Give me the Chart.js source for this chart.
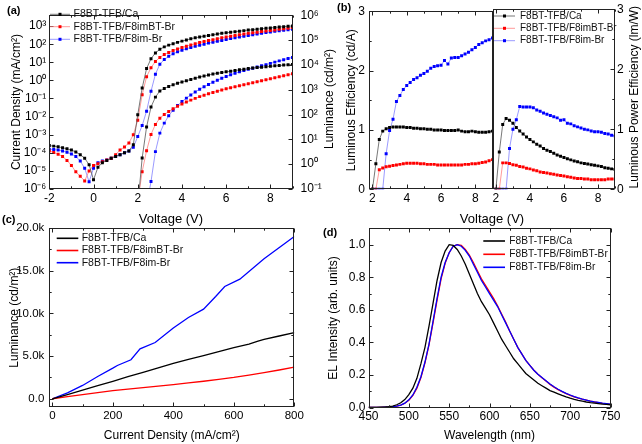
<!DOCTYPE html>
<html>
<head>
<meta charset="utf-8">
<script src="https://cdn.jsdelivr.net/npm/chart.js@4.4.1/dist/chart.umd.min.js"></script>
<style>
  html, body { margin: 0; padding: 0; background: #fff; }
  #wrap { position: relative; width: 642px; height: 444px; overflow: hidden; background: #fff; }
  #wrap canvas { position: absolute; left: 0; top: 0; }
</style>
</head>
<body>
<div id="wrap">
  <canvas id="chartA" width="642" height="444"></canvas>
  <canvas id="chartB1" width="642" height="444"></canvas>
  <canvas id="chartB2" width="642" height="444"></canvas>
  <canvas id="chartC" width="642" height="444"></canvas>
  <canvas id="chartD" width="642" height="444"></canvas>
</div>
<script>
const FONT = "'Liberation Sans', Arial, Helvetica, sans-serif";
Chart.defaults.font.family = FONT;
Chart.defaults.color = '#000';

const names = ['F8BT-TFB/Ca', 'F8BT-TFB/F8imBT-Br', 'F8BT-TFB/F8im-Br'];

// ---------- (a) J-V-L ----------
const vJ = [-2, -1.8, -1.6, -1.4, -1.2, -1, -0.8, -0.6, -0.4, -0.2, 0, 0.2, 0.4, 0.6, 0.8, 1, 1.2, 1.4, 1.6, 1.8,
  2, 2.2, 2.4, 2.6, 2.8, 3, 3.2, 3.4, 3.6, 3.8, 4, 4.2, 4.4, 4.6, 4.8, 5, 5.2, 5.4, 5.6, 5.8,
  6, 6.2, 6.4, 6.6, 6.8, 7, 7.2, 7.4, 7.6, 7.8, 8, 8.2, 8.4, 8.6, 8.8, 9];
const jCa = [2.5e-4, 2.34e-4, 2.14e-4, 1.9e-4, 1.66e-4, 1.41e-4, 1.12e-4, 7.9e-5, 5.0e-5, 2.2e-5, 3.2e-6, 1.6e-5, 2.8e-5, 3.8e-5, 5.0e-5, 6.3e-5, 7.9e-5, 1.0e-4, 1.26e-4, 2.8e-4,
  1.26e-2, 0.38, 4.5, 15.8, 33, 52, 71, 89, 107, 126, 148, 170, 200, 224, 251, 275, 302, 331, 363, 398,
  427, 457, 490, 525, 562, 603, 631, 676, 708, 759, 794, 832, 891, 933, 977, 1023];
const jImBT = [1.26e-4, 1.05e-4, 8.3e-5, 6.3e-5, 3.8e-5, 2.0e-5, 8.9e-6, 5.0e-6, 2.8e-6, 1.0e-5, 2.0e-5, 2.5e-5, 3.2e-5, 4.0e-5, 5.0e-5, 7.9e-5, 1.41e-4, 2.1e-4, 3.5e-4, 1.0e-3,
  6.3e-3, 0.16, 1.6, 5.0, 11.2, 18.6, 27, 35, 45, 55, 66, 78, 91, 107, 123, 141, 158, 178, 200, 224,
  251, 275, 302, 331, 363, 398, 427, 457, 501, 537, 575, 617, 661, 708, 759, 832];
const jIm = [1.58e-4, 1.51e-4, 1.41e-4, 1.26e-4, 1.07e-4, 8.5e-5, 6.3e-5, 3.5e-5, 1.4e-5, 2.5e-6, 1.4e-5, 2.8e-5, 3.5e-5, 4.0e-5, 5.0e-5, 6.3e-5, 7.9e-5, 1.0e-4, 1.26e-4, 2.0e-4,
  7.9e-4, 3.2e-3, 2.0e-2, 0.25, 2.2, 7.9, 14.1, 21.4, 29.5, 38, 46.8, 56, 66, 76, 87, 100, 115, 129, 145, 162,
  182, 204, 229, 251, 275, 302, 331, 363, 398, 437, 468, 513, 550, 589, 631, 676];
const vL = [2, 2.2, 2.4, 2.6, 2.8, 3, 3.2, 3.4, 3.6, 3.8, 4, 4.2, 4.4, 4.6, 4.8, 5, 5.2, 5.4, 5.6, 5.8,
  6, 6.2, 6.4, 6.6, 6.8, 7, 7.2, 7.4, 7.6, 7.8, 8, 8.2, 8.4, 8.6, 8.8, 9];
const lCa = [0.02, 1.78, 31.6, 200, 501, 891, 1122, 1349, 1585, 1820, 2042, 2291, 2570, 2884, 3236, 3548, 3890, 4266, 4571, 4898,
  5248, 5495, 5888, 6310, 6607, 7079, 7413, 7762, 7943, 8318, 8710, 9120, 9333, 9772, 10000, 10470];
const lImBT = [0.03, 0.5, 3.5, 15.8, 40, 71, 100, 132, 170, 214, 263, 316, 380, 447, 525, 603, 692, 776, 871, 977,
  1096, 1202, 1318, 1445, 1585, 1738, 1905, 2089, 2291, 2512, 2754, 3020, 3311, 3631, 3981, 4365];
const vLIm = [2.4, 2.6, 2.8, 3, 3.2, 3.4, 3.6, 3.8, 4, 4.2, 4.4, 4.6, 4.8, 5, 5.2, 5.4, 5.6, 5.8,
  6, 6.2, 6.4, 6.6, 6.8, 7, 7.2, 7.4, 7.6, 7.8, 8, 8.2, 8.4, 8.6, 8.8, 9];
const lIm = [0.02, 0.2, 3.2, 17.8, 45, 89, 148, 229, 331, 457, 617, 813, 1047, 1318, 1622, 1995, 2399, 2884,
  3388, 3981, 4571, 5248, 5888, 6607, 7244, 8128, 9120, 10230, 11480, 12880, 14450, 16220, 18200, 19950];
const aXTicks = [-2, 0, 2, 4, 6, 8];
const aXMinor = [-1, 1, 3, 5, 7, 9];
const jTicks = [1e-6, 1e-5, 1e-4, 1e-3, 1e-2, 1e-1, 1, 10, 100, 1000];
const lTicks = [0.1, 1, 10, 100, 1000, 1e4, 1e5, 1e6];

// ---------- (b) efficiencies ----------
const vB = [2, 2.2, 2.4, 2.6, 2.8, 3, 3.2, 3.4, 3.6, 3.8, 4, 4.2, 4.4, 4.6, 4.8, 5, 5.2, 5.4, 5.6, 5.8,
  6, 6.2, 6.4, 6.6, 6.8, 7, 7.2, 7.4, 7.6, 7.8, 8, 8.2, 8.4, 8.6, 8.8, 9];
const leCa = [0, 0.43, 0.84, 0.98, 1.02, 1.04, 1.05, 1.05, 1.05, 1.05, 1.04, 1.04, 1.03, 1.03, 1.02, 1.02, 1.01, 1.01, 1.0, 1.0,
  1.0, 0.99, 0.99, 0.99, 0.99, 1.0, 0.98, 0.97, 0.97, 0.98, 0.97, 0.96, 0.96, 0.96, 0.97, 0.98];
const leImBT = [0, 0, 0.33, 0.36, 0.38, 0.39, 0.4, 0.41, 0.42, 0.43, 0.44, 0.44, 0.44, 0.44, 0.43, 0.43, 0.42, 0.42, 0.42, 0.41,
  0.41, 0.41, 0.41, 0.41, 0.41, 0.41, 0.41, 0.42, 0.42, 0.43, 0.43, 0.44, 0.45, 0.46, 0.48, 0.5];
const leIm = [0, 0, 0, 0, 0.6, 0.99, 1.18, 1.48, 1.58, 1.68, 1.75, 1.8, 1.85, 1.88, 1.92, 1.95, 1.99, 2.04, 2.07, 2.08,
  2.09, 2.17, 2.11, 2.21, 2.22, 2.22, 2.25, 2.28, 2.31, 2.35, 2.39, 2.44, 2.47, 2.5, 2.52, 2.55];
const peCa = [0, 0.62, 1.08, 1.18, 1.15, 1.1, 1.03, 0.97, 0.92, 0.87, 0.83, 0.79, 0.75, 0.72, 0.68, 0.65, 0.63, 0.6, 0.57, 0.55,
  0.53, 0.51, 0.49, 0.47, 0.46, 0.44, 0.43, 0.42, 0.41, 0.4, 0.39, 0.38, 0.36, 0.35, 0.34, 0.33];
const peImBT = [0, 0, 0.44, 0.44, 0.43, 0.41, 0.4, 0.38, 0.37, 0.35, 0.34, 0.32, 0.31, 0.29, 0.28, 0.27, 0.26, 0.25, 0.24, 0.23,
  0.22, 0.21, 0.2, 0.19, 0.18, 0.18, 0.17, 0.17, 0.16, 0.16, 0.16, 0.16, 0.16, 0.17, 0.17, 0.17];
const peIm = [0, 0, 0, 0, 0.68, 1.0, 1.16, 1.38, 1.37, 1.37, 1.37, 1.36, 1.32, 1.3, 1.27, 1.25, 1.23, 1.21, 1.19, 1.15,
  1.16, 1.1, 1.09, 1.06, 1.04, 1.02, 1.0, 0.99, 0.97, 0.96, 0.96, 0.95, 0.93, 0.92, 0.9, 0.89];
const bXTicks = [2, 4, 6, 8];
const bXMinor = [3, 5, 7, 9];
const bYTicks = [0, 1, 2, 3];
const bYMinor = [0.5, 1.5, 2.5];

// ---------- (c) L-J ----------
const cJCa = [0, 50, 100, 150, 200, 250, 300, 350, 400, 450, 500, 550, 600, 650, 680, 700, 750, 800];
const cLCa = [0, 480, 1000, 1530, 2050, 2580, 3100, 3620, 4150, 4620, 5050, 5520, 6000, 6400, 6750, 6950, 7350, 7750];
const cJImBT = [0, 50, 100, 150, 200, 250, 300, 350, 400, 450, 500, 550, 600, 650, 700, 750, 800];
const cLImBT = [0, 250, 480, 720, 950, 1130, 1300, 1470, 1650, 1850, 2050, 2270, 2500, 2770, 3050, 3370, 3700];
const cJIm = [0, 50, 100, 150, 200, 215, 260, 290, 340, 400, 450, 500, 540, 570, 620, 700, 800];
const cLIm = [0, 700, 1560, 2610, 3590, 3900, 4570, 5850, 6590, 8280, 9520, 10500, 11980, 13150, 14010, 16390, 19000];
const cXTicks = [0, 200, 400, 600, 800];
const cXMinor = [100, 300, 500, 700];
const cYTicks = [0, 5000, 10000, 15000, 20000];
const cYMinor = [2500, 7500, 12500, 17500];

// ---------- (d) EL spectra ----------
const wl = [450, 455, 460, 465, 470, 475, 480, 485, 490, 495, 500, 505, 510, 515, 520, 525, 530, 535, 540, 545,
  550, 555, 560, 565, 570, 575, 580, 585, 590, 595, 600, 605, 610, 615, 620, 625, 630, 635, 640, 645,
  650, 655, 660, 665, 670, 675, 680, 685, 690, 695, 700, 705, 710, 715, 720, 725, 730, 735, 740, 745, 750];
const elCa = [0.002, 0.002, 0.002, 0.003, 0.004, 0.006, 0.01, 0.018, 0.03, 0.05, 0.08, 0.12, 0.18, 0.27, 0.37, 0.5, 0.64, 0.78, 0.89, 0.96,
  1.0, 0.995, 0.97, 0.93, 0.88, 0.82, 0.76, 0.7, 0.65, 0.61, 0.57, 0.52, 0.47, 0.42, 0.38, 0.34, 0.3, 0.27, 0.24, 0.21,
  0.19, 0.17, 0.15, 0.135, 0.12, 0.105, 0.095, 0.085, 0.075, 0.066, 0.058, 0.051, 0.045, 0.04, 0.035, 0.031, 0.028, 0.025, 0.022, 0.02, 0.018];
const elImBT = [0.002, 0.002, 0.002, 0.002, 0.003, 0.004, 0.006, 0.01, 0.016, 0.027, 0.045, 0.075, 0.12, 0.185, 0.275, 0.385, 0.52, 0.66, 0.79, 0.885,
  0.95, 0.99, 1.0, 0.995, 0.97, 0.935, 0.89, 0.84, 0.79, 0.75, 0.71, 0.67, 0.625, 0.575, 0.525, 0.47, 0.42, 0.37, 0.33, 0.29,
  0.26, 0.23, 0.205, 0.183, 0.163, 0.143, 0.126, 0.111, 0.098, 0.086, 0.076, 0.067, 0.059, 0.052, 0.046, 0.04, 0.035, 0.031, 0.027, 0.024, 0.021];
const elIm = [0.002, 0.002, 0.002, 0.002, 0.003, 0.004, 0.006, 0.01, 0.016, 0.028, 0.048, 0.078, 0.125, 0.19, 0.28, 0.39, 0.53, 0.67, 0.8, 0.89,
  0.95, 0.99, 1.0, 0.99, 0.965, 0.93, 0.88, 0.83, 0.78, 0.74, 0.7, 0.66, 0.62, 0.57, 0.52, 0.47, 0.42, 0.37, 0.33, 0.29,
  0.26, 0.23, 0.205, 0.185, 0.165, 0.145, 0.128, 0.113, 0.1, 0.088, 0.078, 0.068, 0.06, 0.053, 0.047, 0.041, 0.036, 0.032, 0.028, 0.025, 0.022];
const dXTicks = [450, 500, 550, 600, 650, 700, 750];
const dXMinor = [475, 525, 575, 625, 675, 725];
const dYTicks = [0, 0.2, 0.4, 0.6, 0.8, 1.0];
const dYMinor = [0.1, 0.3, 0.5, 0.7, 0.9];

// ================= helpers =================
const SUP = { '0': '⁰', '1': '¹', '2': '²', '3': '³', '4': '⁴', '5': '⁵', '6': '⁶', '7': '⁷', '8': '⁸', '9': '⁹', '-': '⁻' };
function powLabel(v) {
  const e = Math.round(Math.log10(v));
  return '10' + String(e).split('').map(c => SUP[c]).join('');
}
function pts(xs, ys) { return xs.map((x, i) => ({ x: x, y: ys[i] })); }
function setTicks(vals) { return s => { s.ticks = vals.map(v => ({ value: v })); }; }

function markerSet(label, xs, ys, color, line, axis) {
  return {
    label: label, data: pts(xs, ys), yAxisID: axis,
    borderColor: line, borderWidth: 0.8, tension: 0, fill: false,
    pointStyle: 'rect', pointRadius: 2.1, pointBorderWidth: 0,
    pointBackgroundColor: color, pointBorderColor: color
  };
}
function lineSet(label, xs, ys, color) {
  return {
    label: label, data: pts(xs, ys), borderColor: color, borderWidth: 1.3,
    tension: 0, fill: false, pointRadius: 0
  };
}
function axis(o) {
  const base = {
    grid: { display: false, drawTicks: false }, border: { display: false },
    ticks: { font: { size: 12 }, padding: 3, autoSkip: false, maxRotation: 0, color: '#000' }
  };
  const out = Object.assign(base, o);
  out.ticks = Object.assign(base.ticks, o.ticks || {});
  return out;
}
function title(text, size) {
  return { display: true, text: text, font: { size: size || 12 }, padding: 0, color: '#000' };
}
function baseOptions(pad, scales) {
  return {
    responsive: false, animation: false, events: [],
    layout: { padding: pad },
    plugins: { legend: { display: false }, tooltip: { enabled: false } },
    scales: scales
  };
}

// frame + inward ticks
function framePlugin(spec) {
  return {
    id: 'frame',
    afterDatasetsDraw(chart) {
      const { ctx, chartArea: a, scales } = chart;
      const L = Math.round(a.left) + 0.5, R = Math.round(a.right) - 0.5;
      const T = Math.round(a.top) + 0.5, B = Math.round(a.bottom) - 0.5;
      ctx.save();
      ctx.strokeStyle = '#222';
      ctx.lineWidth = 1;
      ctx.strokeRect(L, T, R - L, B - T);
      spec.forEach(t => {
        const s = scales[t.axis];
        [[t.major, 4], [t.minor || [], 2.2]].forEach(([vals, len]) => {
          vals.forEach(v => {
            const p = Math.round(s.getPixelForValue(v)) + 0.5;
            ctx.beginPath();
            t.edges.forEach(edge => {
              if (edge === 'bottom') { ctx.moveTo(p, B); ctx.lineTo(p, B - len); }
              if (edge === 'top') { ctx.moveTo(p, T); ctx.lineTo(p, T + len); }
              if (edge === 'left') { ctx.moveTo(L, p); ctx.lineTo(L + len, p); }
              if (edge === 'right') { ctx.moveTo(R, p); ctx.lineTo(R - len, p); }
            });
            ctx.stroke();
          });
        });
      });
      ctx.restore();
    }
  };
}

function legendPlugin(o) {
  return {
    id: 'legendBox',
    afterDraw(chart) {
      const ctx = chart.ctx;
      ctx.save();
      ctx.font = o.size + 'px ' + FONT;
      ctx.textBaseline = 'middle';
      ctx.textAlign = 'left';
      o.items.forEach((it, i) => {
        const y = o.ys[i];
        ctx.strokeStyle = it.line;
        ctx.lineWidth = o.lw;
        ctx.beginPath(); ctx.moveTo(o.x0, y); ctx.lineTo(o.x1, y); ctx.stroke();
        if (o.marker) {
          ctx.fillStyle = it.color;
          ctx.fillRect((o.x0 + o.x1) / 2 - 1.5, y - 1.5, 3, 3);
        }
        ctx.fillStyle = '#111';
        ctx.fillText(it.text, o.tx, y);
      });
      ctx.restore();
    }
  };
}

// free text: panel letters, shared axis title, right-hand titles read bottom-to-top
function notesPlugin(notes) {
  return {
    id: 'notes',
    afterDraw(chart) {
      const ctx = chart.ctx;
      notes.forEach(n => {
        ctx.save();
        ctx.fillStyle = '#000';
        ctx.textBaseline = 'middle';
        ctx.font = (n.bold ? 'bold ' : '') + n.size + 'px ' + FONT;
        ctx.textAlign = n.align || 'left';
        ctx.translate(n.x, n.y);
        if (n.rot) ctx.rotate(n.rot);
        ctx.fillText(n.text, 0, 0);
        ctx.restore();
      });
    }
  };
}

const BLK = '#000000', RED = '#ff0000', BLU = '#0000ff';
const BLK_L = '#555555', RED_L = '#ff8080', BLU_L = '#8080ff';
const markerItems = [
  { text: names[0], color: BLK, line: BLK_L },
  { text: names[1], color: RED, line: RED_L },
  { text: names[2], color: BLU, line: BLU_L }
];
const lineItems = [
  { text: names[0], line: BLK },
  { text: names[1], line: RED },
  { text: names[2], line: BLU }
];

// ================= (a) =================
new Chart(document.getElementById('chartA'), {
  type: 'line',
  data: {
    datasets: [
      markerSet(names[0], vJ, jCa, BLK, BLK_L, 'y'),
      markerSet(names[1], vJ, jImBT, RED, RED_L, 'y'),
      markerSet(names[2], vJ, jIm, BLU, BLU_L, 'y'),
      markerSet(names[0], vL, lCa, BLK, BLK_L, 'yL'),
      markerSet(names[1], vL, lImBT, RED, RED_L, 'yL'),
      markerSet(names[2], vLIm, lIm, BLU, BLU_L, 'yL')
    ]
  },
  options: baseOptions({ left: 9.5, right: 304.8, top: 9.3, bottom: 217.2 }, {
    x: axis({
      type: 'linear', min: -2, max: 9, ticks: { padding: 2 },
      afterBuildTicks: setTicks(aXTicks), afterFit: s => { s.height = 37.8; },
      title: title('Voltage (V)', 13)
    }),
    y: axis({
      type: 'logarithmic', position: 'left', min: 1e-6, max: 4000,
      ticks: { callback: v => powLabel(v), padding: 3 },
      afterBuildTicks: setTicks(jTicks), afterFit: s => { s.width = 39.8; },
      title: title('Current Density (mA/cm²)')
    }),
    yL: axis({
      type: 'logarithmic', position: 'right', min: 0.1, max: 1e6,
      ticks: { callback: v => powLabel(v), padding: 8 },
      afterBuildTicks: setTicks(lTicks), afterFit: s => { s.width = 44.7; }
    })
  }),
  plugins: [
    framePlugin([
      { axis: 'x', major: aXTicks, minor: aXMinor, edges: ['bottom', 'top'] },
      { axis: 'y', major: jTicks, edges: ['left'] },
      { axis: 'yL', major: lTicks, edges: ['right'] }
    ]),
    legendPlugin({ x0: 50, x1: 70, tx: 73.5, ys: [14.3, 26.7, 39.3], size: 10.5, lw: 0.8, marker: true, items: markerItems }),
    notesPlugin([
      { text: '(a)', x: 7, y: 11, size: 11, bold: true },
      { text: 'Luminance (cd/m²)', x: 330, y: 99, size: 12, align: 'center', rot: -Math.PI / 2 }
    ])
  ]
});

// ================= (b) left: luminous efficiency =================
new Chart(document.getElementById('chartB1'), {
  type: 'line',
  data: {
    datasets: [
      markerSet(names[0], vB, leCa, BLK, BLK_L, 'y'),
      markerSet(names[1], vB, leImBT, RED, RED_L, 'y'),
      markerSet(names[2], vB, leIm, BLU, BLU_L, 'y')
    ]
  },
  options: baseOptions({ left: 344.5, right: 149.5, top: 5.1, bottom: 234.7 }, {
    x: axis({
      type: 'linear', min: 1.8, max: 9, ticks: { padding: 2 },
      afterBuildTicks: setTicks(bXTicks), afterFit: s => { s.height = 20; }
    }),
    y: axis({
      type: 'linear', position: 'left', min: 0, max: 3,
      ticks: { padding: 4 },
      afterBuildTicks: setTicks(bYTicks), afterFit: s => { s.width = 24.5; },
      title: title('Luminous Efficiency (cd/A)')
    })
  }),
  plugins: [
    framePlugin([
      { axis: 'x', major: bXTicks, minor: bXMinor, edges: ['bottom', 'top'] },
      { axis: 'y', major: bYTicks, minor: bYMinor, edges: ['left'] }
    ]),
    notesPlugin([
      { text: '(b)', x: 337, y: 8, size: 11, bold: true },
      { text: 'Voltage (V)', x: 492, y: 219, size: 13, align: 'center' }
    ])
  ]
});

// ================= (b) right: power efficiency =================
new Chart(document.getElementById('chartB2'), {
  type: 'line',
  data: {
    datasets: [
      markerSet(names[0], vB, peCa, BLK, BLK_L, 'yR'),
      markerSet(names[1], vB, peImBT, RED, RED_L, 'yR'),
      markerSet(names[2], vB, peIm, BLU, BLU_L, 'yR')
    ]
  },
  options: baseOptions({ left: 492.5, right: 0, top: 5.1, bottom: 234.7 }, {
    x: axis({
      type: 'linear', min: 1.8, max: 9, ticks: { padding: 2 },
      afterBuildTicks: setTicks(bXTicks), afterFit: s => { s.height = 20; }
    }),
    yR: axis({
      type: 'linear', position: 'right', min: 0, max: 3,
      ticks: { padding: 2 },
      afterBuildTicks: setTicks(bYTicks), afterFit: s => { s.width = 27; }
    })
  }),
  plugins: [
    framePlugin([
      { axis: 'x', major: bXTicks, minor: bXMinor, edges: ['bottom', 'top'] },
      { axis: 'yR', major: bYTicks, minor: bYMinor, edges: ['right'] }
    ]),
    legendPlugin({ x0: 494, x1: 515, tx: 520, ys: [16, 28.3, 40.7], size: 10, lw: 0.8, marker: true, items: markerItems }),
    notesPlugin([
      { text: 'Luminous Power Efficiency (lm/W)', x: 635, y: 97.2, size: 12, align: 'center', rot: -Math.PI / 2 }
    ])
  ]
});

// ================= (c) =================
new Chart(document.getElementById('chartC'), {
  type: 'line',
  data: {
    datasets: [
      lineSet(names[0], cJCa, cLCa, BLK),
      lineSet(names[1], cJImBT, cLImBT, RED),
      lineSet(names[2], cJIm, cLIm, BLU)
    ]
  },
  options: baseOptions({ left: 7.8, right: 347.7, top: 228, bottom: 1.1 }, {
    x: axis({
      type: 'linear', min: -10, max: 800, ticks: { padding: 2, font: { size: 11.5 } },
      afterBuildTicks: setTicks(cXTicks), afterFit: s => { s.height = 35.6; },
      title: title('Current Density (mA/cm²)')
    }),
    y: axis({
      type: 'linear', position: 'left', min: -1000, max: 20000,
      ticks: { padding: 5, font: { size: 11.5 }, callback: v => v === 0 ? '0.0' : (v / 1000).toFixed(1) + 'k' },
      afterBuildTicks: setTicks(cYTicks), afterFit: s => { s.width = 41.5; },
      title: title('Luminance (cd/m²)')
    })
  }),
  plugins: [
    framePlugin([
      { axis: 'x', major: cXTicks, minor: cXMinor, edges: ['bottom', 'top'] },
      { axis: 'y', major: cYTicks, minor: cYMinor, edges: ['left', 'right'] }
    ]),
    legendPlugin({ x0: 56.7, x1: 78.3, tx: 81.7, ys: [238.3, 250.5, 262.7], size: 10.5, lw: 1.6, marker: false, items: lineItems }),
    notesPlugin([{ text: '(c)', x: 2, y: 220, size: 11, bold: true }])
  ]
});

// ================= (d) =================
new Chart(document.getElementById('chartD'), {
  type: 'line',
  data: {
    datasets: [
      lineSet(names[0], wl, elCa, BLK),
      lineSet(names[2], wl, elIm, BLU),
      lineSet(names[1], wl, elImBT, RED)
    ]
  },
  options: baseOptions({ left: 326.1, right: 31.5, top: 228.3, bottom: 1.1 }, {
    x: axis({
      type: 'linear', min: 450, max: 750, ticks: { padding: 2 },
      afterBuildTicks: setTicks(dXTicks), afterFit: s => { s.height = 35.2; },
      title: title('Wavelength (nm)')
    }),
    y: axis({
      type: 'linear', position: 'left', min: 0, max: 1.1,
      ticks: { padding: 3, callback: v => v.toFixed(1) },
      afterBuildTicks: setTicks(dYTicks), afterFit: s => { s.width = 42.4; },
      title: title('EL Intensity (arb. units)')
    })
  }),
  plugins: [
    framePlugin([
      { axis: 'x', major: dXTicks, minor: dXMinor, edges: ['bottom', 'top'] },
      { axis: 'y', major: dYTicks, minor: dYMinor, edges: ['left', 'right'] }
    ]),
    legendPlugin({ x0: 483.3, x1: 505, tx: 509.3, ys: [241, 254.3, 267.3], size: 10.2, lw: 1.6, marker: false, items: lineItems }),
    notesPlugin([{ text: '(d)', x: 323, y: 233, size: 11, bold: true }])
  ]
});
</script>
</body>
</html>
